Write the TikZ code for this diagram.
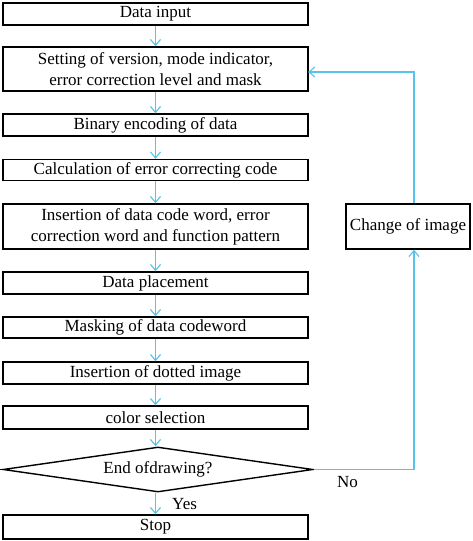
\documentclass[tikz,border=0pt]{standalone}
\usepackage{fontspec}
\setmainfont{Liberation Serif}
\usetikzlibrary{shapes.geometric,arrows.meta}
\definecolor{flowblue}{RGB}{85,195,235}
\tikzset{
  stepbox/.style={draw=black,line width=1.4pt,rectangle,minimum width=305pt,inner sep=0pt,align=center,font=\fontsize{17}{21}\selectfont},
  decbox/.style={draw=black,line width=1.4pt,diamond,aspect=6.9,minimum width=310pt,minimum height=45pt,inner sep=0pt,align=center,font=\fontsize{17}{21}\selectfont},
  flow/.style={draw=flowblue,line width=1.1pt,-{Straight Barb[length=6pt,width=10pt]}},
  lbl/.style={font=\fontsize{17}{21}\selectfont,inner sep=0pt}
}
\begin{document}
\begin{tikzpicture}[x=1pt,y=-1pt]
\useasboundingbox (0,0) rectangle (472,541);
\node[stepbox,minimum height=22pt] (b1) at (155.5,14) {Data input};
\node[stepbox,minimum height=44pt] (b2) at (155.5,69) {Setting of version, mode indicator,\\error correction level and mask};
\node[stepbox,minimum height=22pt] (b3) at (155.5,125) {Binary encoding of data};
\node[stepbox,minimum height=21pt] (b4) at (155.5,170) {Calculation of error correcting code};
\node[stepbox,minimum height=45pt] (b5) at (155.5,226.5) {Insertion of data code word, error\\correction word and function pattern};
\node[stepbox,minimum height=22pt] (b6) at (155.5,283) {Data placement};
\node[stepbox,minimum height=21pt] (b7) at (155.5,327.5) {Masking of data codeword};
\node[stepbox,minimum height=22pt] (b8) at (155.5,373) {Insertion of dotted image};
\node[stepbox,minimum height=23pt] (b9) at (155.5,417.5) {color selection};
\node[decbox] (d) at (158,469.5) {End ofdrawing?};
\node[stepbox,minimum height=24pt] (stop) at (155.5,527) {Stop};
\node[stepbox,minimum width=124pt,minimum height=45pt] (chg) at (408,226.5) {Change of image};
\coordinate (c1) at (414,469.5);
\coordinate (c2) at (414,72);
\coordinate (b2r) at (308,72);
\draw[flow] (b1.south) -- (b2.north);
\draw[flow] (b2.south) -- (b3.north);
\draw[flow] (b3.south) -- (b4.north);
\draw[flow] (b4.south) -- (b5.north);
\draw[flow] (b5.south) -- (b6.north);
\draw[flow] (b6.south) -- (b7.north);
\draw[flow] (b7.south) -- (b8.north);
\draw[flow] (b8.south) -- (b9.north);
\draw[flow] (b9.south) -- (d.north -| b9.south);
\draw[flow] (d.south -| stop.north) -- (stop.north);
\draw[flow] (d.east) -- (c1) -- (chg.south -| c1);
\draw[flow] (chg.north -| c2) -- (c2) -- (b2r);
\node[lbl,anchor=west] (yes) at (172,504) {Yes};
\node[lbl,anchor=west] (no) at (337,482) {No};
\end{tikzpicture}
\end{document}
